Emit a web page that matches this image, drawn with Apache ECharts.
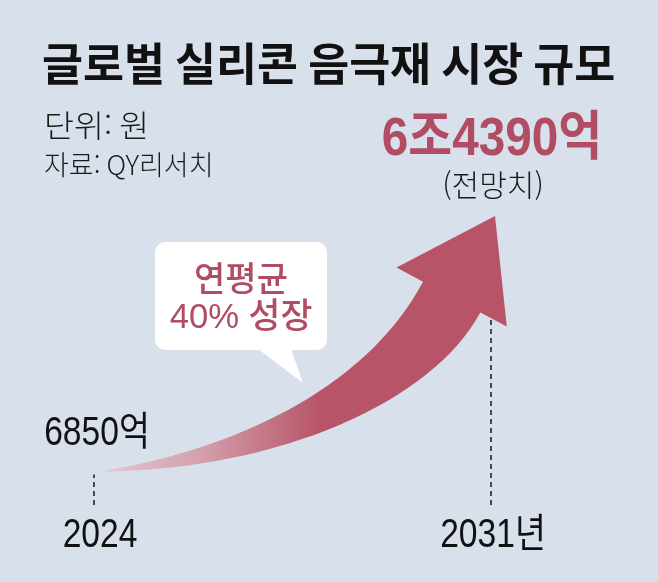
<!DOCTYPE html>
<html lang="ko">
<head>
    <meta charset="utf-8">
    <script src="https://cdn.jsdelivr.net/npm/echarts@6/dist/echarts.min.js"></script>
    <style>
        html, body { margin: 0; padding: 0; background: #d8e0ec; }
        #main { width: 658px; height: 582px; }
    </style>
</head>
<body>
<div id="main"></div>

<script>
    // 글로벌 실리콘 음극재 시장 규모 (단위: 억원)
    var years = [2024, 2031];
    var marketSize = [6850, 64390];
    var sizeLabels = ['6850억', '6조4390억'];
    var sizeNotes = ['', '(전망치)'];
    var yearLabels = ['2024', '2031년'];

    var titleText = '글로벌 실리콘 음극재 시장 규모';
    var unitText = '단위: 원';
    var sourceText = '자료: QY리서치';
    var bubbleLines = ['연평균', '40% 성장'];

    var RED = '#b85468';
    var TEXT_RED = '#b04c63';
    var LAT = "'Liberation Sans', 'Noto Sans CJK KR', sans-serif";
    var KR = "'Noto Sans CJK KR', sans-serif";

    function arrowPath(S, E) {
        function at(u, v) {
            return [S[0] + u * (E[0] - S[0]), S[1] + v * (E[1] - S[1])];
        }
        var tail = [S[0] + 6, S[1] - 1];
        var tip = [E[0] + 4, E[1] - 1];
        var d = [0.471, -0.882];
        var n = [0.882, 0.471];
        var base = [tip[0] - 92 * d[0], tip[1] - 92 * d[1]];
        function side(k) {
            return [base[0] + k * n[0], base[1] + k * n[1]];
        }
        var nl = side(-32.5), bl = side(-62.5), br = side(62.5), nr = side(32.5);
        var u1 = at(0.393, 0.100), u2 = at(0.698, 0.362);
        var l2 = at(0.854, 0.280), l1 = at(0.469, 0.010);
        function p(pt) { return pt[0].toFixed(1) + ' ' + pt[1].toFixed(1); }
        return 'M' + p(tail)
            + ' C' + p(u1) + ' ' + p(u2) + ' ' + p(nl)
            + ' L' + p(bl) + ' L' + p(tip) + ' L' + p(br) + ' L' + p(nr)
            + ' C' + p(l2) + ' ' + p(l1) + ' ' + p(tail) + ' Z';
    }

    // condensed-looking text: plain font squeezed horizontally
    function label(x, y, text, size, opts) {
        opts = opts || {};
        return {
            type: 'text',
            x: x,
            y: y,
            scaleX: opts.scaleX || 1,
            style: {
                text: text, x: 0, y: 0, align: 'center', verticalAlign: 'middle',
                fontFamily: opts.family || LAT, fontSize: size,
                fontWeight: opts.weight || 'normal', fill: opts.color || '#111'
            }
        };
    }

    var chart = echarts.init(document.getElementById('main'));

    var option = {
        backgroundColor: '#d8e0ec',
        animation: false,
        grid: { left: 94, right: 167, top: 192, bottom: 79 },
        xAxis: {
            type: 'value',
            min: years[0],
            max: years[1],
            interval: 1,
            splitLine: { show: false },
            axisLine: { show: false },
            axisTick: { show: false },
            axisLabel: { show: false }
        },
        yAxis: { type: 'value', min: 0, max: 70000, show: false },
        graphic: [
            {
                type: 'text', x: 42, y: 64, scaleX: 0.99,
                style: {
                    text: titleText, x: 0, y: 0, verticalAlign: 'middle',
                    fontFamily: KR, fontSize: 45, fontWeight: 'bold', fill: '#111'
                }
            },
            {
                type: 'text', x: 44, y: 125, scaleX: 1.05,
                style: {
                    text: unitText, x: 0, y: 0, verticalAlign: 'middle',
                    fontFamily: KR, fontSize: 31, fontWeight: 300, fill: '#1a1a1a'
                }
            },
            {
                type: 'text', x: 44, y: 165,
                style: {
                    text: sourceText, x: 0, y: 0, verticalAlign: 'middle',
                    fontFamily: KR, fontSize: 27, fontWeight: 300, fill: '#1a1a1a'
                }
            },
            {
                type: 'group',
                children: [
                    { type: 'rect', shape: { x: 155, y: 242, width: 172, height: 108, r: 10 }, style: { fill: '#fff' } },
                    { type: 'polygon', shape: { points: [[258, 349], [303, 383], [291, 349]] }, style: { fill: '#fff' } },
                    label(241, 278, bubbleLines[0], 34, { family: KR, weight: 500, color: TEXT_RED }),
                    label(241, 318, bubbleLines[1], 35, { weight: 500, color: TEXT_RED, scaleX: 0.99 })
                ]
            }
        ],
        series: [
            {
                // dashed drop lines
                type: 'custom',
                coordinateSystem: 'cartesian2d',
                z: 1,
                data: years.map(function (y, i) { return [y, marketSize[i]]; }),
                renderItem: function (params, api) {
                    var bottom = api.coord([api.value(0), 0]);
                    var top = api.coord([api.value(0), api.value(1)]);
                    return {
                        type: 'line',
                        shape: { x1: bottom[0], y1: bottom[1] + 2, x2: top[0], y2: top[1] + 2 },
                        style: { stroke: '#222', lineWidth: 1.6, lineDash: [5, 4] }
                    };
                }
            },
            {
                // growth arrow
                type: 'custom',
                coordinateSystem: 'cartesian2d',
                z: 2,
                encode: { x: [0, 2], y: [1, 3] },
                data: [[years[0], marketSize[0], years[1], marketSize[1]]],
                renderItem: function (params, api) {
                    var S = api.coord([api.value(0), api.value(1)]);
                    var E = api.coord([api.value(2), api.value(3)]);
                    return {
                        type: 'path',
                        shape: { pathData: arrowPath(S, E) },
                        style: {
                            fill: {
                                type: 'linear', global: true,
                                x: S[0] + 6, y: 0, x2: S[0] + 0.57 * (E[0] - S[0]), y2: 0,
                                colorStops: [
                                    { offset: 0, color: '#e2c9d1' },
                                    { offset: 0.45, color: '#d3a1ad' },
                                    { offset: 1, color: RED }
                                ]
                            }
                        }
                    };
                }
            },
            {
                // year and value labels, placed from the data points
                type: 'custom',
                coordinateSystem: 'cartesian2d',
                z: 5,
                data: years.map(function (y, i) { return [y, marketSize[i]]; }),
                renderItem: function (params, api) {
                    var i = params.dataIndex;
                    var pt = api.coord([api.value(0), api.value(1)]);
                    var base = api.coord([api.value(0), 0]);
                    var children = [
                        label(base[0] + (i === 0 ? 6 : 2), base[1] + 33, yearLabels[i], 40, { scaleX: 0.84 })
                    ];
                    if (i === 0) {
                        children.push(label(pt[0] + 3, pt[1] - 39, sizeLabels[i], 40, { scaleX: 0.84 }));
                    } else {
                        children.push(label(pt[0] + 1, pt[1] - 77, sizeLabels[i], 53,
                            { weight: 'bold', color: TEXT_RED, scaleX: 0.9 }));
                        children.push(label(pt[0] + 2, pt[1] - 32, sizeNotes[i], 30,
                            { family: KR, weight: 300, color: '#1a1a1a' }));
                    }
                    return { type: 'group', children: children };
                }
            }
        ]
    };

    chart.setOption(option);
</script>
</body>
</html>
